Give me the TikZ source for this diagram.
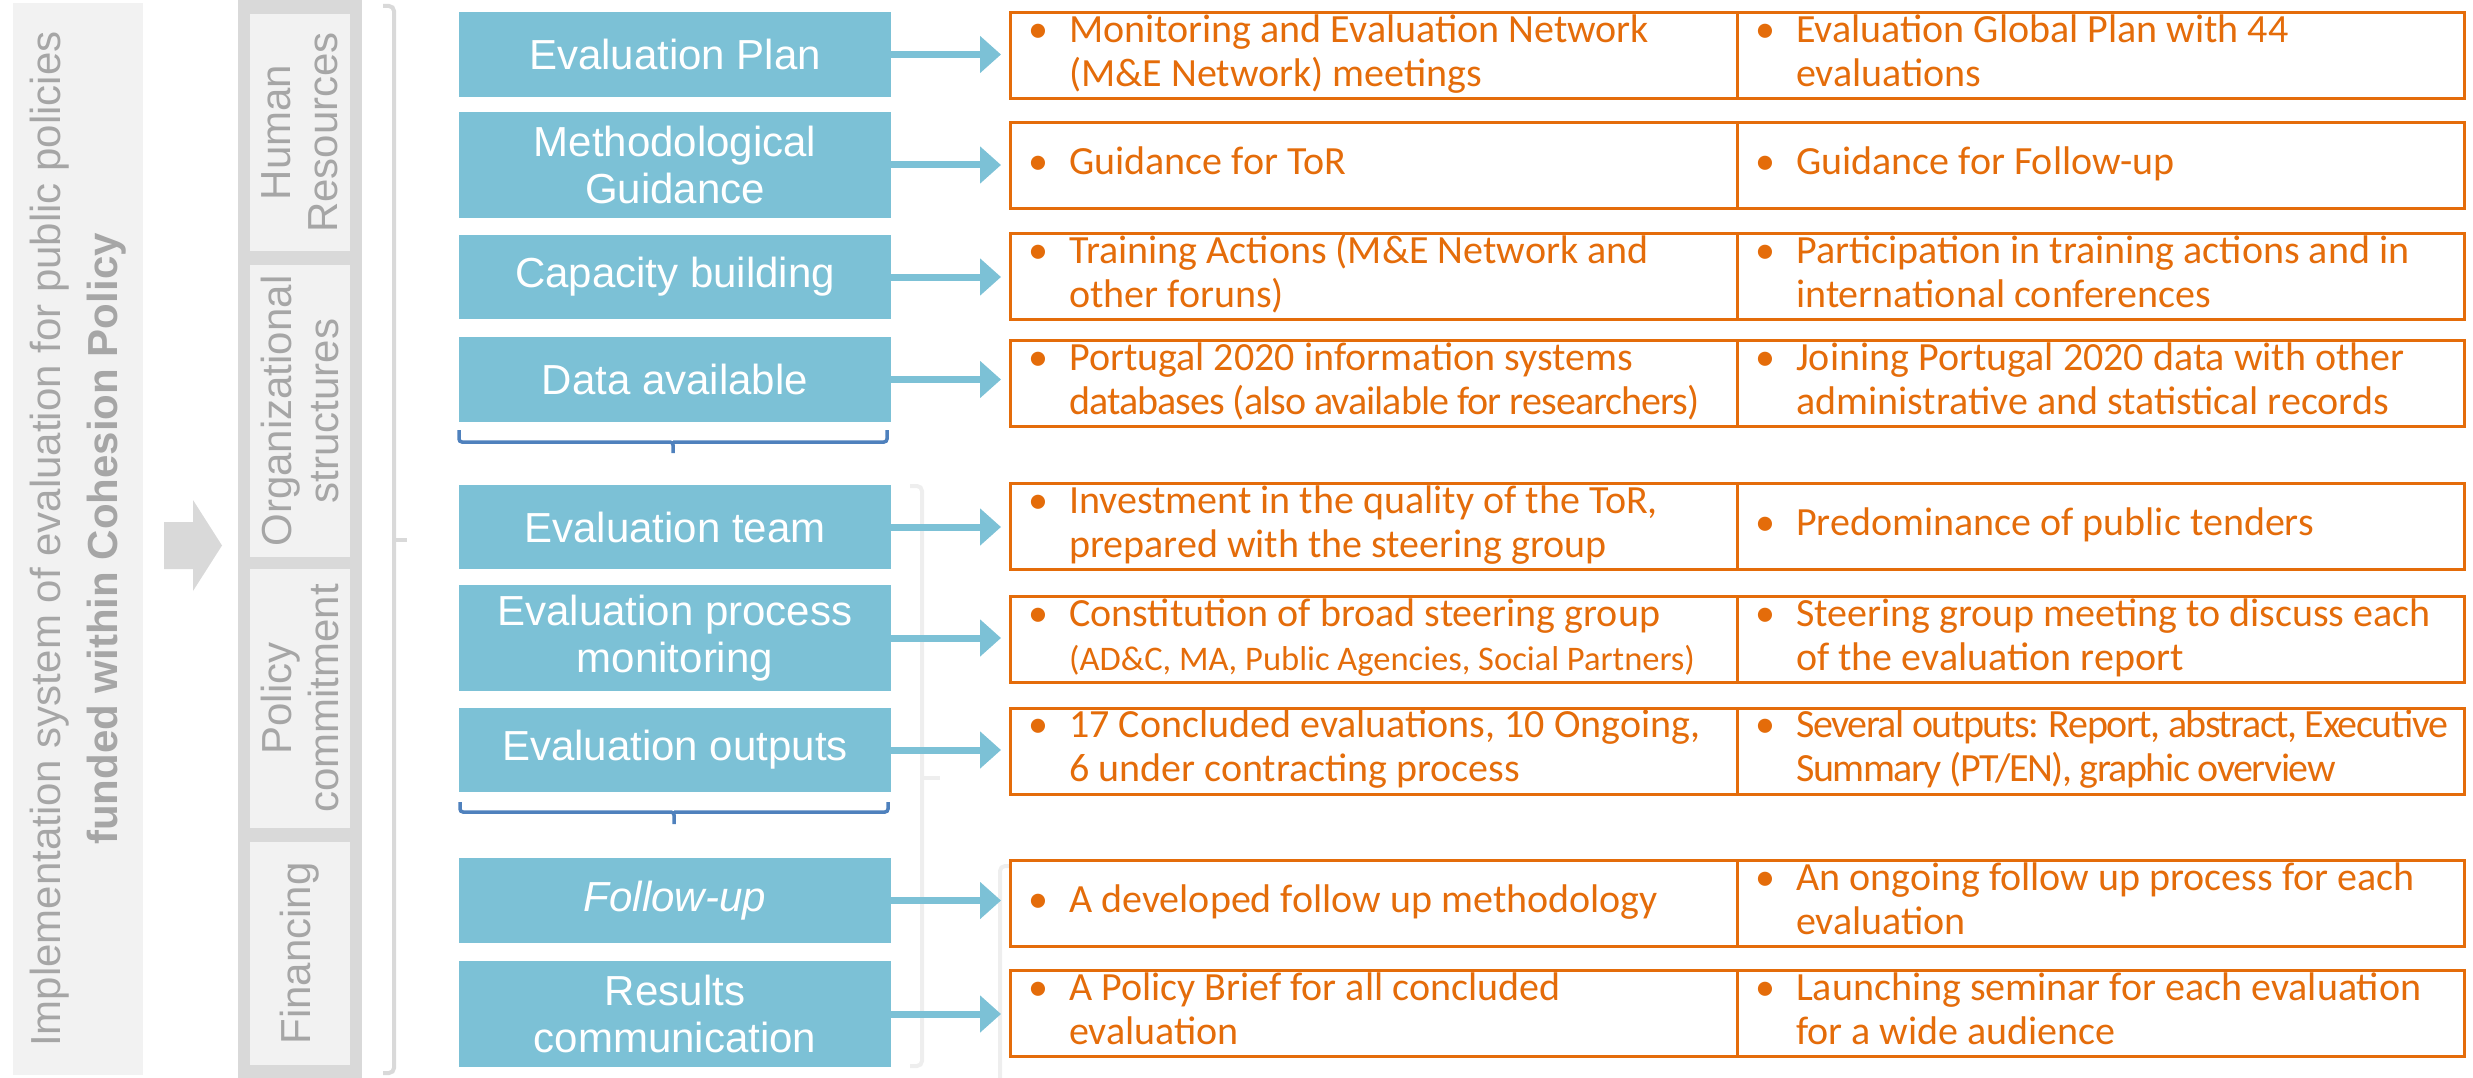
\documentclass[tikz,border=0pt]{standalone}
\usepackage{fontspec}
\setmainfont{Liberation Sans}
\newfontfamily\calibri{Carlito}
\usetikzlibrary{positioning,arrows.meta}

\definecolor{stepblue}{HTML}{7CC1D6}
\definecolor{outorange}{HTML}{E46C0A}
\definecolor{panelgray}{HTML}{F2F2F2}
\definecolor{framegray}{HTML}{D9D9D9}
\definecolor{labelgray}{HTML}{A6A6A6}
\definecolor{braceblue}{HTML}{4F81BD}
\definecolor{ghostgray}{HTML}{EEEEEE}

% bullet point with one or two lines
\newcommand{\btwo}[2]{\begin{tabular}{@{}l@{}l@{}}\makebox[41pt][l]{•}&#1\\&#2\end{tabular}}
\newcommand{\bone}[1]{\begin{tabular}{@{}l@{}l@{}}\makebox[41pt][l]{•}&#1\end{tabular}}
% squeezed line
\newcommand{\tight}[2]{{\addfontfeature{LetterSpace=#1}#2}}

\begin{document}
\begin{tikzpicture}[x=1pt, y=-1pt,
    sidebox/.style={rotate=90, fill=panelgray, text=labelgray, align=center,
        minimum height=100pt, inner sep=0pt, font=\fontsize{42}{47}\selectfont},
    stepbox/.style={fill=stepblue, text=white, align=center, minimum width=432pt,
        inner sep=0pt, outer sep=0pt, font=\fontsize{42}{47}\selectfont},
    outbox/.style={draw=outorange, line width=3pt, minimum width=727pt,
        minimum height=86pt, inner sep=0pt, outer sep=0pt},
    outtxt/.style={anchor=west, text=outorange, inner sep=0pt,
        font=\calibri\fontsize{40}{44}\selectfont},
    flow/.style={stepblue, line width=7pt, -{Triangle[length=21pt,width=36pt]}, shorten >=9pt},
    graybrace/.style={framegray, line width=4pt, rounded corners=5pt},
    bluebrace/.style={braceblue, line width=3.5pt, rounded corners=3pt}]

\useasboundingbox (0,0) rectangle (2473,1078);

% Left title panel
\node[sidebox, minimum width=1072pt, minimum height=130pt, font=\fontsize{42}{57}\selectfont]
    (title) at (78,539) {Implementation system of evaluation for public policies\\
    \textbf{funded within Cohesion Policy}};
\fill[framegray] (164,522) -- (193,522) -- (193,500) -- (222,545.5) -- (193,591)
    -- (193,569) -- (164,569) -- cycle;

% Pillars
\fill[framegray] (238,0) rectangle (362,1078);
\node[sidebox, minimum width=237pt] (hr) at (300,132.5) {Human\\Resources};
\node[sidebox, minimum width=292pt] (org) at (300,411) {Organizational\\structures};
\node[sidebox, minimum width=259pt] (pol) at (300,698.5) {Policy\\commitment};
\node[sidebox, minimum width=223pt] (fin) at (300,953.5) {Financing};

% Brackets
\draw[graybrace] (383,6) -- (394,6) -- (394,1073) -- (383,1073);
\draw[graybrace] (394,540) -- (407,540);
\draw[ghostgray, line width=4pt, rounded corners=5pt] (910,486) -- (922,486) -- (922,1066) -- (910,1066);
\draw[ghostgray, line width=4pt, rounded corners=3pt] (922,778) -- (940,778);
\draw[ghostgray, line width=4pt, rounded corners=5pt] (1010,866) -- (1000,866) -- (1000,1078);

% Steps
\node[stepbox, minimum height=85pt] (plan) at (675,54.5) {Evaluation Plan};
\node[stepbox, minimum height=106pt] (guide) at (675,165) {Methodological\\Guidance};
\node[stepbox, minimum height=84pt] (capa) at (675,277) {Capacity building};
\node[stepbox, minimum height=85pt] (data) at (675,379.5) {Data available};
\node[stepbox, minimum height=84pt] (team) at (675,527) {Evaluation team};
\node[stepbox, minimum height=106pt] (proc) at (675,638) {Evaluation process\\monitoring};
\node[stepbox, minimum height=84pt] (outp) at (675,750) {Evaluation outputs};
\node[stepbox, minimum height=85pt] (foll) at (675,900.5) {\textit{Follow-up}};
\node[stepbox, minimum height=106pt] (comm) at (675,1014) {Results\\communication};

% Braces under the groups
\draw[bluebrace] (459,430) |- (673,442) -- (673,453);
\draw[bluebrace] (887,430) |- (673,442);
\draw[bluebrace] (460,802) |- (674,812) -- (674,824);
\draw[bluebrace] (888,802) |- (674,812);

% Outcome boxes
\node[outbox] (plan-a) at (1373.5,56) {};
\node[outbox, right=0pt of plan-a] (plan-b) {};
\node[outbox] (guide-a) at (1373.5,165.5) {};
\node[outbox, right=0pt of guide-a] (guide-b) {};
\node[outbox] (capa-a) at (1373.5,276.5) {};
\node[outbox, right=0pt of capa-a] (capa-b) {};
\node[outbox] (data-a) at (1373.5,383.5) {};
\node[outbox, right=0pt of data-a] (data-b) {};
\node[outbox] (team-a) at (1373.5,526.5) {};
\node[outbox, right=0pt of team-a] (team-b) {};
\node[outbox] (proc-a) at (1373.5,639.5) {};
\node[outbox, right=0pt of proc-a] (proc-b) {};
\node[outbox] (outp-a) at (1373.5,751) {};
\node[outbox, right=0pt of outp-a] (outp-b) {};
\node[outbox] (foll-a) at (1373.5,903.5) {};
\node[outbox, right=0pt of foll-a] (foll-b) {};
\node[outbox] (comm-a) at (1373.5,1013.5) {};
\node[outbox, right=0pt of comm-a] (comm-b) {};

% Outcome texts
\node[outtxt] (t1a) at ([xshift=18pt]plan-a.west) {\btwo{Monitoring and Evaluation Network}{(M\&E Network) meetings}};
\node[outtxt] (t1b) at ([xshift=18pt]plan-b.west) {\btwo{Evaluation Global Plan with 44}{evaluations}};
\node[outtxt] (t2a) at ([xshift=18pt]guide-a.west) {\bone{Guidance for ToR}};
\node[outtxt] (t2b) at ([xshift=18pt]guide-b.west) {\bone{Guidance for Follow-up}};
\node[outtxt] (t3a) at ([xshift=18pt]capa-a.west) {\btwo{Training Actions (M\&E Network and}{other foruns)}};
\node[outtxt] (t3b) at ([xshift=18pt]capa-b.west) {\btwo{Participation in training actions and in}{international conferences}};
\node[outtxt] (t4a) at ([xshift=18pt]data-a.west) {\btwo{Portugal 2020 information systems}{\tight{-2.4}{databases (also available for researchers)}}};
\node[outtxt] (t4b) at ([xshift=18pt]data-b.west) {\btwo{Joining Portugal 2020 data with other}{administrative and statistical records}};
\node[outtxt] (t5a) at ([xshift=18pt]team-a.west) {\btwo{Investment in the quality of the ToR,}{prepared with the steering group}};
\node[outtxt] (t5b) at ([xshift=18pt]team-b.west) {\bone{Predominance of public tenders}};
\node[outtxt] (t6a) at ([xshift=18pt]proc-a.west) {\btwo{Constitution of broad steering group}{{\fontsize{34.5}{40}\selectfont (AD\&C, MA, Public Agencies, Social Partners)}}};
\node[outtxt] (t6b) at ([xshift=18pt]proc-b.west) {\btwo{Steering group meeting to discuss each}{of the evaluation report}};
\node[outtxt] (t7a) at ([xshift=18pt]outp-a.west) {\btwo{17 Concluded evaluations, 10 Ongoing,}{6 under contracting process}};
\node[outtxt] (t7b) at ([xshift=18pt]outp-b.west) {\btwo{\tight{-3.7}{Several outputs: Report, abstract, Executive}}{\tight{-3.7}{Summary (PT/EN), graphic overview}}};
\node[outtxt] (t8a) at ([xshift=18pt]foll-a.west) {\bone{A developed follow up methodology}};
\node[outtxt] (t8b) at ([xshift=18pt]foll-b.west) {\btwo{An ongoing follow up process for each}{evaluation}};
\node[outtxt] (t9a) at ([xshift=18pt]comm-a.west) {\btwo{A Policy Brief for all concluded}{evaluation}};
\node[outtxt] (t9b) at ([xshift=18pt]comm-b.west) {\btwo{Launching seminar for each evaluation}{for a wide audience}};

% Arrows
\draw[flow] (plan.east) -- (plan.east -| plan-a.west);
\draw[flow] (guide.east) -- (guide.east -| guide-a.west);
\draw[flow] (capa.east) -- (capa.east -| capa-a.west);
\draw[flow] (data.east) -- (data.east -| data-a.west);
\draw[flow] (team.east) -- (team.east -| team-a.west);
\draw[flow] (proc.east) -- (proc.east -| proc-a.west);
\draw[flow] (outp.east) -- (outp.east -| outp-a.west);
\draw[flow] (foll.east) -- (foll.east -| foll-a.west);
\draw[flow] (comm.east) -- (comm.east -| comm-a.west);
\end{tikzpicture}
\end{document}
